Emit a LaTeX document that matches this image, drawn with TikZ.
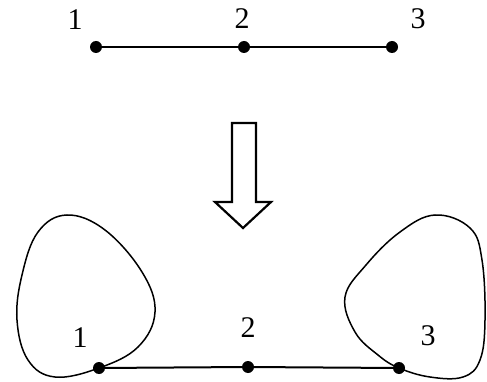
\documentclass[tikz,border=0pt]{standalone}
\usepackage{fontspec}
\setmainfont{Liberation Serif}
\begin{document}
\begin{tikzpicture}[x=1pt,y=-1pt,
  dot/.style={circle,fill=black,inner sep=0pt,minimum size=12pt},
  lbl/.style={inner sep=0pt,font=\fontsize{30}{31}\selectfont},
  edge/.style={line width=2pt},
  loopline/.style={line width=1.5pt}]
\useasboundingbox (0,0) rectangle (487,382);
% top graph
\node[dot] (a1) at (96,47) {};
\node[dot] (a2) at (244,47) {};
\node[dot] (a3) at (392,47) {};
\node[lbl] (t1) at (75,20) {1};
\node[lbl] (t2) at (242,19) {2};
\node[lbl] (t3) at (418,19) {3};
\draw[edge] (a1) -- (a2) -- (a3);
% arrow
\draw[line width=2.2pt,line join=miter] (232,123) -- (256,123) -- (256,202) -- (271,202) -- (243,228) -- (215,202) -- (232,202) -- cycle;
% bottom graph
\node[dot] (b1) at (99,368) {};
\node[dot] (b2) at (248,367) {};
\node[dot] (b3) at (399,368) {};
\node[lbl] (u1) at (80,338) {1};
\node[lbl] (u2) at (248,328) {2};
\node[lbl] (u3) at (428,336) {3};
\draw[edge] (b1) -- (b2) -- (b3);
\draw[loopline] plot[smooth cycle,tension=0.65] coordinates {(99,368) (138,347) (155,312) (142,272) (105,230) (67,215) (38,232) (22,275) (17,320) (28,360) (55,377)};
\draw[loopline] plot[smooth cycle,tension=0.65] coordinates {(399,368) (430,377) (463,377) (480,360) (485,320) (482,260) (470,228) (435,215) (400,232) (366,265) (345,297) (355,332) (378,355)};
\end{tikzpicture}
\end{document}
